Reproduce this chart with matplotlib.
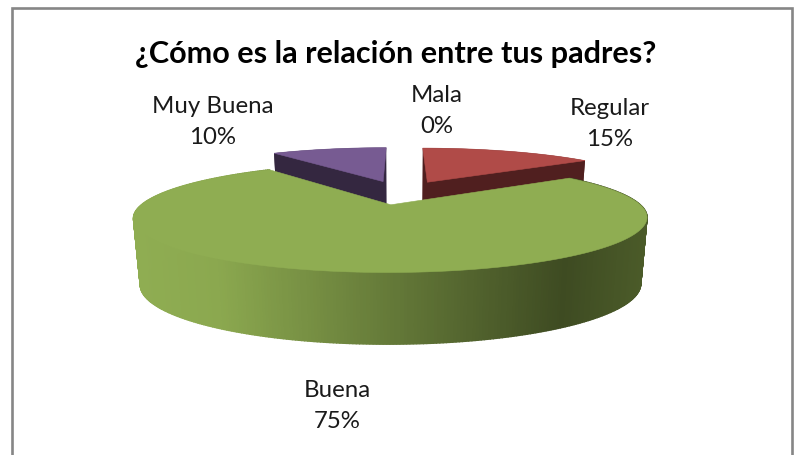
import numpy as np
import matplotlib
matplotlib.use("Agg")
import matplotlib.pyplot as plt
from matplotlib.colors import LinearSegmentedColormap
from matplotlib.patches import Rectangle, Polygon

title = "¿Cómo es la relación entre tus padres?"
categories = ["Mala", "Regular", "Buena", "Muy Buena"]
values = [0, 15, 75, 10]
top_colors = ["#4F81BD", "#B04B48", "#8FAD52", "#775B92"]
wall_colors = ["#243F5E", "#501F1F", None, "#342740"]
label_xy = [(437, 111), (610, 124), (337, 406), (213, 122)]

EXPLODE = 0.26
KP = 0.2245
TOP = dict(xc=401.0, yc=192.3, a=235.0, b=45.8)
BOT = dict(xc=401.0, yc=256.5, a=229.0, b=50.1)


def project(gx, gy, lev):
    d = 1 + KP * gy
    return np.column_stack([lev["xc"] + lev["a"] * gx / d,
                            lev["yc"] - lev["b"] * gy / d])


def slice_ground(start, end, n):
    mid = (start + end) / 2
    ox, oy = EXPLODE * np.sin(mid), EXPLODE * np.cos(mid)
    th = np.linspace(start, end, n)
    return ox, oy, ox + np.sin(th), oy + np.cos(th)


fig = plt.figure(figsize=(7.94, 4.55), dpi=100)
ax = fig.add_axes([0, 0, 1, 1])
ax.set_xlim(0, 794)
ax.set_ylim(455, 0)
ax.axis("off")

ax.add_patch(Rectangle((11.5, 7.5), 780, 460, fc="white", ec="#868686", lw=1.9, zorder=0))

wall_cmap = LinearSegmentedColormap.from_list(
    "wall", [(0, "#8FAD52"), (0.16, "#8BA84F"), (0.84, "#3E4B22"), (1, "#4B5B29")])

frac = np.cumsum([0] + values) / sum(values) * 2 * np.pi
order = [1, 3, 2, 0]
for z, i in enumerate(order):
    if values[i] == 0:
        continue
    start, end = frac[i], frac[i + 1]
    n = max(int(values[i] * 6), 12)
    ox, oy, gx, gy = slice_ground(start, end, n)
    top = project(gx, gy, TOP)
    bot = project(gx, gy, BOT)
    ap_t = project(np.array([ox]), np.array([oy]), TOP)
    ap_b = project(np.array([ox]), np.array([oy]), BOT)
    base = 2 + z * 2
    if wall_colors[i] is None:
        xmin, xmax = top[:, 0].min(), top[:, 0].max()
        for k in range(n - 1):
            quad = [top[k], top[k + 1], bot[k + 1], bot[k]]
            t = (0.5 * (top[k, 0] + top[k + 1, 0]) - xmin) / (xmax - xmin)
            c = wall_cmap(t)
            ax.add_patch(Polygon(quad, fc=c, ec=c, lw=1.0, zorder=base))
    else:
        # front-facing cut: the radius that lands lower on screen
        j = -1 if top[-1, 1] > top[0, 1] else 0
        ax.add_patch(Polygon(np.vstack([ap_t, top[j], bot[j], ap_b]),
                             fc=wall_colors[i], ec="none", zorder=base))
        ax.add_patch(Polygon(np.vstack([top, bot[::-1]]),
                             fc=wall_colors[i], ec="none", zorder=base))
    ax.add_patch(Polygon(np.vstack([ap_t, top]), fc=top_colors[i], ec=top_colors[i],
                         lw=0.4, zorder=base + 1))

ax.text(396, 54, title, ha="center", va="center", family="Lato", fontweight="bold",
        fontsize=22.1, color="black", zorder=20)

for name, v, (x, y) in zip(categories, values, label_xy):
    ax.text(x, y, f"{name}\n{v}%", ha="center", va="center", multialignment="center",
            family="Lato", fontsize=17.3, color="#1a1a1a", linespacing=1.55, zorder=20)

fig.savefig("out.png", dpi=100)
